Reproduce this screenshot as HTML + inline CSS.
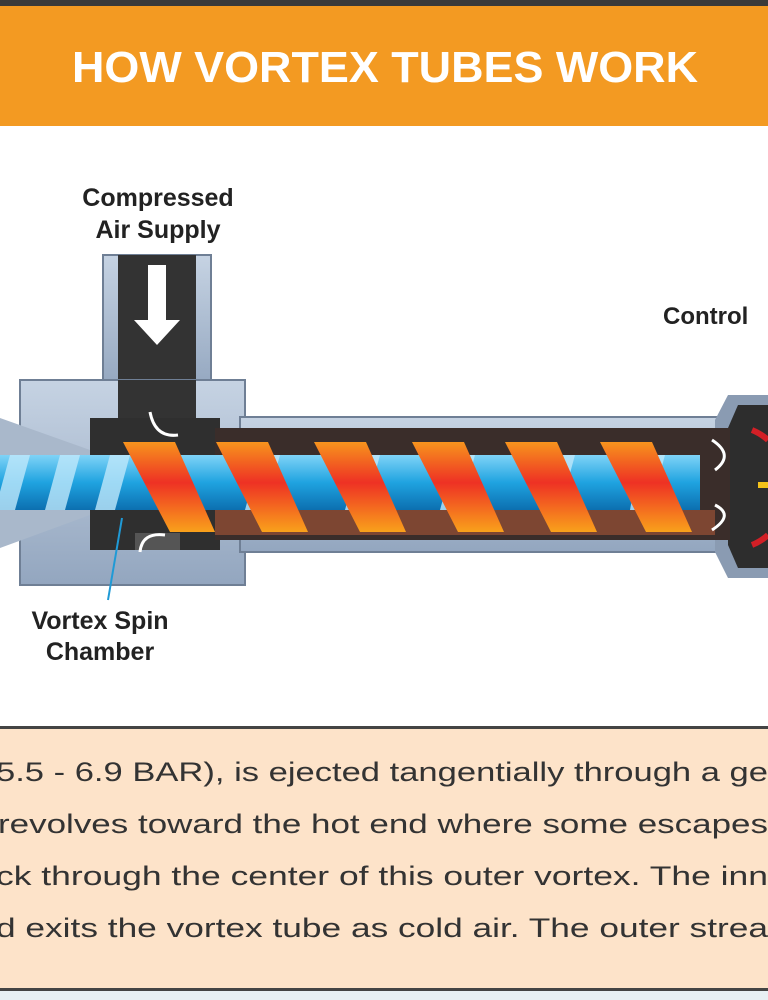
<!DOCTYPE html>
<html><head><meta charset="utf-8"><style>
html,body{margin:0;padding:0;width:768px;height:1000px;overflow:hidden;background:#fff;font-family:"Liberation Sans",sans-serif;}
</style></head><body>
<svg width="768" height="1000" viewBox="0 0 768 1000" xmlns="http://www.w3.org/2000/svg">
<defs>
<linearGradient id="stripe" x1="0" y1="0" x2="0" y2="1">
<stop offset="0" stop-color="#f7941d"/><stop offset="0.45" stop-color="#ee3124"/><stop offset="1" stop-color="#f9a11b"/></linearGradient>
<linearGradient id="blue" x1="0" y1="0" x2="0" y2="1">
<stop offset="0" stop-color="#7fd3f7"/><stop offset="0.5" stop-color="#1fa3e0"/><stop offset="1" stop-color="#0c6fb0"/></linearGradient>
<linearGradient id="metal" x1="0" y1="0" x2="0" y2="1">
<stop offset="0" stop-color="#c6d3e3"/><stop offset="1" stop-color="#93a6bf"/></linearGradient>
</defs>
<rect x="0" y="0" width="768" height="1000" fill="#fff"/>
<rect x="0" y="0" width="768" height="6" fill="#3a3a3a"/>
<rect x="0" y="6" width="768" height="120" fill="#f39a22"/>
<text x="72" y="82" font-size="44" font-weight="bold" fill="#fff" textLength="626" lengthAdjust="spacingAndGlyphs">HOW VORTEX TUBES WORK</text>

<text x="158" y="206" text-anchor="middle" font-size="25" font-weight="bold" fill="#222">Compressed</text>
<text x="158" y="238" text-anchor="middle" font-size="25" font-weight="bold" fill="#222">Air Supply</text>
<text x="663" y="324" font-size="24" font-weight="bold" fill="#222">Control</text>
<text x="100" y="629" text-anchor="middle" font-size="25" font-weight="bold" fill="#222">Vortex Spin</text>
<text x="100" y="660" text-anchor="middle" font-size="25" font-weight="bold" fill="#222">Chamber</text>

<rect x="103" y="255" width="108" height="135" fill="url(#metal)" stroke="#6f7f95" stroke-width="2"/>
<rect x="118" y="255" width="78" height="175" fill="#333"/>
<polygon points="148,265 166,265 166,320 180,320 157,345 134,320 148,320" fill="#fff"/>

<rect x="20" y="380" width="225" height="205" fill="url(#metal)" stroke="#6f7f95" stroke-width="2"/>
<rect x="118" y="380" width="78" height="40" fill="#333"/>
<rect x="240" y="417" width="495" height="135" fill="url(#metal)" stroke="#6f7f95" stroke-width="2"/>
<polygon points="728,395 768,395 768,578 728,578 715,552 715,420" fill="#8a9bb2"/>
<polygon points="738,405 768,405 768,568 738,568 728,545 728,428" fill="#2d2d2d"/>
<path d="M752,430 A55,55 0 0 1 768,440" stroke="#d21f26" stroke-width="6" fill="none"/>
<path d="M752,545 A55,55 0 0 0 768,535" stroke="#d21f26" stroke-width="6" fill="none"/>
<rect x="758" y="482" width="10" height="6" fill="#f5c21b"/>
<rect x="90" y="418" width="130" height="132" fill="#2f2f2f"/>
<rect x="215" y="428" width="515" height="112" fill="#3a2d2a"/>
<rect x="135" y="533" width="45" height="17" fill="#555"/>
<polygon points="0,418 90,450 90,515 0,548" fill="#a9b8cb"/>
<rect x="0" y="455" width="700" height="55" fill="url(#blue)"/>
<g fill="#bfe8fb" opacity="0.8">
<polygon points="10,455 30,455 15,510 -5,510"/><polygon points="60,455 80,455 65,510 45,510"/>
<polygon points="110,455 130,455 115,510 95,510"/><polygon points="260,455 280,455 265,510 245,510"/>
<polygon points="360,455 380,455 365,510 345,510"/><polygon points="455,455 475,455 460,510 440,510"/>
<polygon points="550,455 575,455 560,510 540,510"/><polygon points="640,455 665,455 650,510 630,510"/>
</g>
<rect x="215" y="510" width="500" height="25" fill="#c0603a" opacity="0.5"/>
<g fill="url(#stripe)">
<polygon points="123,442 175,442 215,532 170,532"/>
<polygon points="216,442 268,442 308,532 262,532"/>
<polygon points="314,442 366,442 406,532 360,532"/>
<polygon points="412,442 464,442 504,532 458,532"/>
<polygon points="505,442 557,442 597,532 551,532"/>
<polygon points="600,442 652,442 692,532 646,532"/>
</g>
<g stroke="#fff" stroke-width="3" fill="none">
<path d="M150,412 Q155,438 178,435"/><path d="M140,552 Q142,532 165,535"/>
<path d="M712,440 Q735,455 715,470"/><path d="M712,530 Q735,515 715,505"/>
</g>
<line x1="122" y1="518" x2="108" y2="600" stroke="#1f9ad6" stroke-width="2"/>

<rect x="0" y="726" width="768" height="265" fill="#fde3c9"/>
<rect x="0" y="726" width="768" height="3" fill="#444"/>
<rect x="0" y="988" width="768" height="3" fill="#444"/>
<rect x="0" y="991" width="768" height="9" fill="#e8f0f4"/>
<g font-size="27" fill="#333">
<text x="-4" y="781" textLength="772" lengthAdjust="spacingAndGlyphs">5.5 - 6.9 BAR), is ejected tangentially through a ge</text>
<text x="-2" y="833" textLength="770" lengthAdjust="spacingAndGlyphs">revolves toward the hot end where some escapes</text>
<text x="-4" y="885" textLength="772" lengthAdjust="spacingAndGlyphs">ck through the center of this outer vortex. The inn</text>
<text x="-4" y="937" textLength="772" lengthAdjust="spacingAndGlyphs">d exits the vortex tube as cold air. The outer strea</text>
</g>
</svg>
</body></html>
